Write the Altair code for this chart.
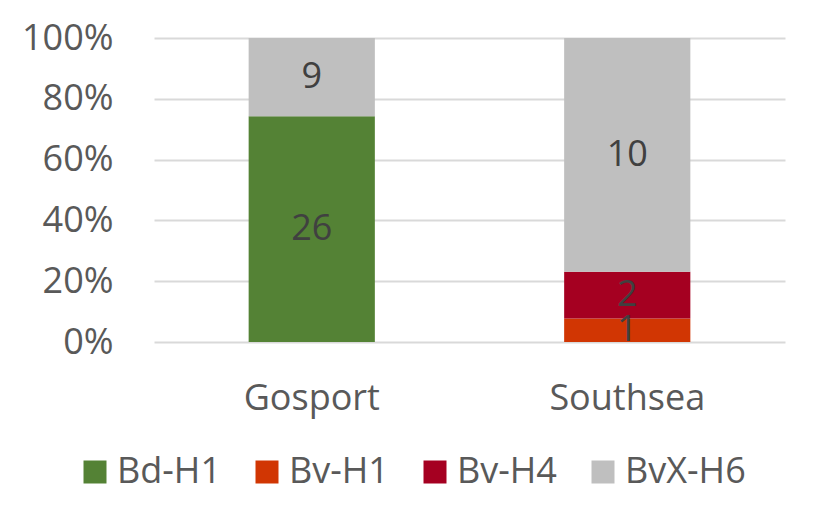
import altair as alt
import pandas as pd

sites = ["Gosport", "Gosport", "Southsea", "Southsea", "Southsea"]
series = ["Bd-H1", "BvX-H6", "Bv-H1", "Bv-H4", "BvX-H6"]
counts = [26, 9, 1, 2, 10]
series_order = ["Bd-H1", "Bv-H1", "Bv-H4", "BvX-H6"]
series_colors = ["#548235", "#D13603", "#A50021", "#BFBFBF"]
y_ticks = [0, 0.2, 0.4, 0.6, 0.8, 1.0]

df = pd.DataFrame({"site": sites, "series": series, "count": counts})
df["ord"] = df["series"].map({s: i for i, s in enumerate(series_order)})

FONT = "Open Sans"

base = alt.Chart(df).transform_joinaggregate(
    total="sum(count)", groupby=["site"]
).transform_window(
    cum="sum(count)", groupby=["site"], sort=[alt.SortField("ord")], frame=[None, 0]
).transform_calculate(
    y_end="datum.cum / datum.total",
    y_start="(datum.cum - datum.count) / datum.total",
    y_mid="(datum.cum - datum.count / 2) / datum.total",
)

x_enc = alt.X(
    "site:N",
    title=None,
    sort=["Gosport", "Southsea"],
    scale=alt.Scale(paddingInner=0.6, paddingOuter=0.3),
    axis=alt.Axis(
        labelAngle=0,
        labelFont=FONT,
        labelFontSize=36,
        labelColor="#595959",
        labelBaseline="alphabetic",
        labelPadding=67,
        ticks=False,
        domain=False,
        grid=False,
    ),
)

bars = base.mark_bar().encode(
    x=x_enc,
    y=alt.Y(
        "y_start:Q",
        title=None,
        scale=alt.Scale(domain=[0, 1]),
        axis=alt.Axis(
            values=y_ticks,
            format=".0%",
            labelFont=FONT,
            labelFontSize=36,
            labelColor="#595959",
            labelPadding=41,
            ticks=False,
            domain=False,
            grid=True,
            gridColor="#D9D9D9",
            gridWidth=2,
        ),
    ),
    y2="y_end:Q",
    color=alt.Color(
        "series:N",
        scale=alt.Scale(domain=series_order, range=series_colors),
        legend=alt.Legend(
            title=None,
            orient="none",
            direction="horizontal",
            legendX=-77,
            legendY=416,
            symbolType="square",
            symbolSize=529,
            symbolStrokeWidth=0,
            symbolOpacity=1,
            labelFont=FONT,
            labelFontSize=36,
            labelColor="#595959",
            labelOffset=4,
            columnPadding=28,
        ),
    ),
)

labels = base.mark_text(
    font=FONT, fontSize=36, color="#404040", baseline="middle", align="center"
).encode(
    x=alt.X("site:N", sort=["Gosport", "Southsea"]),
    y=alt.Y("y_mid:Q"),
    text=alt.Text("count:Q"),
)

chart = (
    alt.layer(bars, labels)
    .properties(
        width=631,
        height=304,
        autosize=alt.AutoSizeParams(type="none"),
        padding={"left": 146, "top": 30, "right": 10, "bottom": 160},
        background="white",
    )
    .configure_view(stroke=None)
)

chart.save("out.html", embed_options={"renderer": "svg", "actions": False})
